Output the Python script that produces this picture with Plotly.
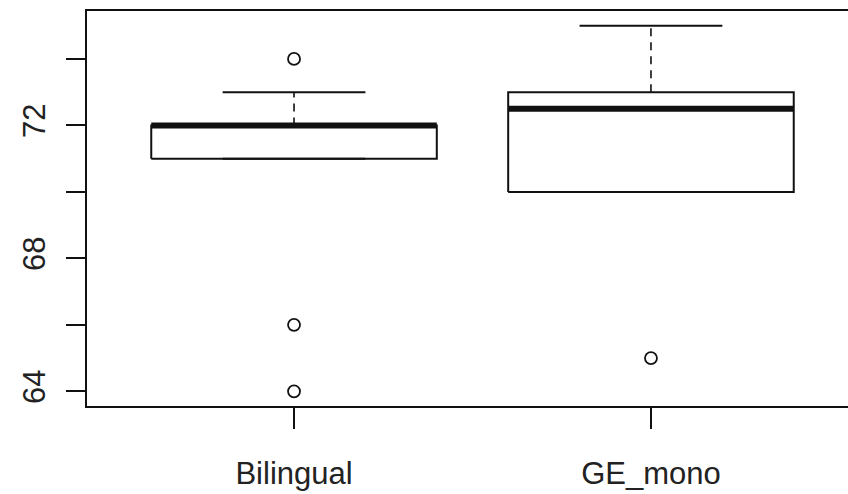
import plotly.graph_objects as go

# Five-number summaries per group (lower whisker, Q1, median, Q3, upper whisker)
groups = ["Bilingual", "GE_mono"]
lower_whisker = [71, 70]
q1 = [71, 70]
median = [72, 72.5]
q3 = [72, 73]
upper_whisker = [73, 75]
outliers = [[74, 66, 64], [65]]

y_tick_vals = [64, 66, 68, 70, 72, 74]
y_tick_text = ["64", "", "68", "", "72", ""]

positions = [1, 2]
half_box = 0.4   # boxwex 0.8
half_cap = 0.2   # staple width half of box

INK = "#111111"
TEXT = "#222222"
FONT = "Liberation Sans, Arial, sans-serif"

fig = go.Figure()

def seg(xs, ys, width=2, dash="solid"):
    fig.add_trace(go.Scatter(
        x=xs, y=ys, mode="lines",
        line=dict(color=INK, width=width, dash=dash),
        hoverinfo="skip", showlegend=False,
    ))

for i, x in enumerate(positions):
    # whiskers (dashed) from box to staple
    seg([x, x], [q3[i], upper_whisker[i]], width=1.6, dash="8px,6px")
    seg([x, x], [lower_whisker[i], q1[i]], width=1.6, dash="8px,6px")
    # staples
    seg([x - half_cap, x + half_cap], [upper_whisker[i]] * 2, width=2)
    seg([x - half_cap, x + half_cap], [lower_whisker[i]] * 2, width=2)
    # box outline
    seg([x - half_box, x + half_box, x + half_box, x - half_box, x - half_box],
        [q1[i], q1[i], q3[i], q3[i], q1[i]], width=2)
    # median
    seg([x - half_box, x + half_box], [median[i]] * 2, width=6)
    # outliers
    fig.add_trace(go.Scatter(
        x=[x] * len(outliers[i]), y=outliers[i], mode="markers",
        marker=dict(symbol="circle-open", size=12, color=INK, line=dict(width=1.8)),
        hoverinfo="skip", showlegend=False,
    ))

fig.update_layout(
    width=848, height=494,
    margin=dict(l=87, r=0, t=11, b=88),
    paper_bgcolor="white", plot_bgcolor="white",
    font=dict(family=FONT, color=TEXT),
    xaxis=dict(
        range=[0.42, 2.552], tickvals=positions, ticktext=groups,
        showgrid=False, zeroline=False,
        showline=True, linecolor=INK, linewidth=2, mirror=True,
        ticks="outside", ticklen=21, tickwidth=2, tickcolor=INK,
        ticklabelstandoff=18,
        tickfont=dict(size=31, family=FONT, color=TEXT),
    ),
    yaxis=dict(
        range=[63.56, 75.44], tickvals=y_tick_vals, ticktext=y_tick_text,
        tickangle=-90,
        showgrid=False, zeroline=False,
        showline=True, linecolor=INK, linewidth=2, mirror=False,
        ticks="outside", ticklen=19, tickwidth=2, tickcolor=INK,
        ticklabelstandoff=9,
        tickfont=dict(size=31, family=FONT, color=TEXT),
    ),
)

fig.write_html("out.html")
